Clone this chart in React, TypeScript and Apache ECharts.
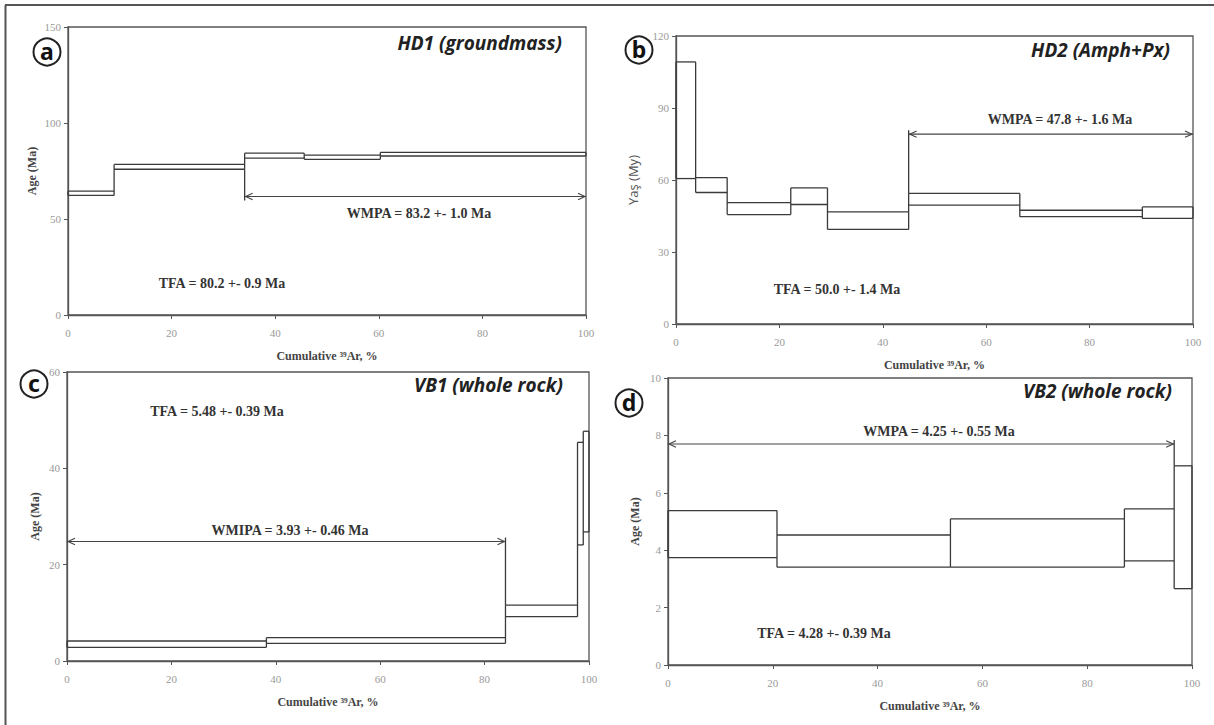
import React, { useEffect, useRef } from "react";
import * as echarts from "echarts";

// ---------- DATA ----------
// Panel a: HD1 (groundmass)
const hd1Edges = [0, 8.9, 34.1, 45.6, 60.3, 100];
const hd1Upper = [64.5, 78.4, 84.3, 83.3, 84.7];
const hd1Lower = [62.3, 75.9, 81.7, 81.1, 82.8];
// Panel b: HD2 (Amph+Px)
const hd2Edges = [0, 3.8, 9.9, 22.2, 29.3, 45.0, 66.5, 90.2, 100];
const hd2Upper = [109.2, 61.0, 50.6, 56.7, 46.7, 54.4, 47.4, 48.8];
const hd2Lower = [60.6, 54.8, 45.6, 49.8, 39.4, 49.5, 44.7, 44.0];
// Panel c: VB1 (whole rock)
const vb1Edges = [0, 38.2, 84.0, 97.8, 98.9, 100];
const vb1Upper = [4.15, 4.84, 11.6, 45.4, 47.7];
const vb1Lower = [2.84, 3.67, 9.2, 24.1, 26.8];
// Panel d: VB2 (whole rock)
const vb2Edges = [0, 20.8, 53.9, 87.1, 96.6, 100];
const vb2Upper = [5.38, 4.53, 5.09, 5.44, 6.94];
const vb2Lower = [3.74, 3.41, 3.41, 3.63, 2.66];

// Plateau arrows: [from %, to %, age level]
const hd1Plateau = [34.1, 100, 61.7];
const hd2Plateau = [45.0, 100, 79.1];
const vb1Plateau = [0, 84.0, 24.8];
const vb2Plateau = [0, 96.6, 7.7];

// Axis settings
const xTicks = [0, 20, 40, 60, 80, 100];
const yMaxes = [150, 120, 60, 10];
const yIntervals = [50, 30, 20, 2];

// Texts
const titles = ["HD1 (groundmass)", "HD2 (Amph+Px)", "VB1 (whole rock)", "VB2 (whole rock)"];
const panelLetters = ["a", "b", "c", "d"];
const wmpaTexts = [
  "WMPA = 83.2 +- 1.0 Ma",
  "WMPA = 47.8 +- 1.6 Ma",
  "WMIPA = 3.93 +- 0.46 Ma",
  "WMPA = 4.25 +- 0.55 Ma",
];
const tfaTexts = [
  "TFA = 80.2 +- 0.9 Ma",
  "TFA = 50.0 +- 1.4 Ma",
  "TFA = 5.48 +- 0.39 Ma",
  "TFA = 4.28 +- 0.39 Ma",
];
const yNames = ["Age (Ma)", "Yaş (My)", "Age (Ma)", "Age (Ma)"];
const xName = "Cumulative ³⁹Ar, %";

// ---------- LAYOUT ----------
const grids = [
  { left: 68, top: 27, width: 518, height: 288 },
  { left: 676, top: 36, width: 517, height: 288 },
  { left: 67, top: 372, width: 522, height: 289 },
  { left: 668, top: 378, width: 524, height: 287 },
];
const yNameGaps = [30, 37, 26, 27];
const titlePos = [
  [562, 43],
  [1170, 50],
  [563, 385],
  [1172, 391],
];
const circlePos = [
  [47, 52],
  [639, 50],
  [34, 384],
  [629, 403],
];
const wmpaPos = [
  [419, 213],
  [1060, 119],
  [290, 530],
  [939, 431],
];
const tfaPos = [
  [222, 283],
  [837, 289],
  [217, 411],
  [824, 633],
];

const panels = [
  { edges: hd1Edges, up: hd1Upper, lo: hd1Lower, plateau: hd1Plateau },
  { edges: hd2Edges, up: hd2Upper, lo: hd2Lower, plateau: hd2Plateau },
  { edges: vb1Edges, up: vb1Upper, lo: vb1Lower, plateau: vb1Plateau },
  { edges: vb2Edges, up: vb2Upper, lo: vb2Lower, plateau: vb2Plateau },
];

const LINE = "#3a3a3a";
const AXIS = "#555";

// each item: [x0, x1, lo, hi, leftEdgeLo, leftEdgeHi, isLast]
function boxData(p: any) {
  return p.up.map((u: number, i: number) => {
    const l = p.lo[i];
    const pl = i > 0 ? p.lo[i - 1] : l;
    const pu = i > 0 ? p.up[i - 1] : u;
    return [p.edges[i], p.edges[i + 1], l, u, Math.min(l, pl), Math.max(u, pu), i === p.up.length - 1 ? 1 : 0];
  });
}

// marker line target: the step extent at the inner plateau boundary
function plateauData(p: any) {
  const [from, to, y] = p.plateau;
  const mx = from > 0 ? from : to;
  const idx = p.edges.indexOf(mx);
  const cand: number[] = [];
  if (idx > 0) cand.push(p.lo[idx - 1], p.up[idx - 1]);
  if (idx < p.up.length) cand.push(p.lo[idx], p.up[idx]);
  const target = y > Math.max(...cand) ? Math.max(...cand) : Math.min(...cand);
  return [[from, to, y, mx, target]];
}

function renderBox(params: any, api: any) {
  const x0 = api.value(0);
  const x1 = api.value(1);
  const lo = api.value(2);
  const hi = api.value(3);
  const a = api.coord([x0, hi]);
  const b = api.coord([x1, lo]);
  const e0 = api.coord([x0, api.value(4)]);
  const e1 = api.coord([x0, api.value(5)]);
  const st = { stroke: LINE, lineWidth: 1.3, fill: "none" };
  const children: any[] = [
    { type: "line", shape: { x1: a[0], y1: a[1], x2: b[0], y2: a[1] }, style: st },
    { type: "line", shape: { x1: a[0], y1: b[1], x2: b[0], y2: b[1] }, style: st },
    { type: "line", shape: { x1: e0[0], y1: e0[1], x2: e1[0], y2: e1[1] }, style: st },
  ];
  if (api.value(6) === 1) {
    children.push({ type: "line", shape: { x1: b[0], y1: a[1], x2: b[0], y2: b[1] }, style: st });
  }
  return { type: "group", children };
}

function renderArrow(params: any, api: any) {
  const p0 = api.coord([api.value(0), api.value(2)]);
  const p1 = api.coord([api.value(1), api.value(2)]);
  const m0 = api.coord([api.value(3), api.value(2)]);
  const m1 = api.coord([api.value(3), api.value(4)]);
  const dir = m1[1] > m0[1] ? -1 : 1;
  const hl = 8;
  const hw = 3.2;
  const st = { stroke: "#444", lineWidth: 1.1, fill: "none" };
  return {
    type: "group",
    children: [
      { type: "line", shape: { x1: p0[0], y1: p0[1], x2: p1[0], y2: p1[1] }, style: st },
      {
        type: "polyline",
        shape: { points: [[p0[0] + hl, p0[1] - hw], [p0[0] + 1, p0[1]], [p0[0] + hl, p0[1] + hw]] },
        style: st,
      },
      {
        type: "polyline",
        shape: { points: [[p1[0] - hl, p1[1] - hw], [p1[0] - 1, p1[1]], [p1[0] - hl, p1[1] + hw]] },
        style: st,
      },
      {
        type: "line",
        shape: { x1: m0[0], y1: m0[1] + dir * 4, x2: m1[0], y2: m1[1] },
        style: { stroke: LINE, lineWidth: 1.3 },
      },
    ],
  };
}

export default function App() {
  const ref = useRef<HTMLDivElement>(null);
  useEffect(() => {
    if (!ref.current) return;
    const chart = echarts.init(ref.current, null, { renderer: "svg" });

    const xAxis = grids.map((_, i) => ({
      type: "value",
      gridIndex: i,
      min: xTicks[0],
      max: xTicks[xTicks.length - 1],
      interval: 20,
      name: xName,
      nameLocation: "middle",
      nameGap: 35,
      nameTextStyle: {
        fontFamily: "Liberation Serif",
        fontWeight: "bold",
        fontSize: 12,
        color: "#444",
      },
      axisLine: { show: true, lineStyle: { color: AXIS, width: 1.3 } },
      axisTick: { show: true, length: 4, lineStyle: { color: AXIS } },
      axisLabel: { color: "#999", fontSize: 11, fontFamily: "Liberation Serif", margin: 12 },
      splitLine: { show: false },
    }));

    const yAxis = grids.map((_, i) => ({
      type: "value",
      gridIndex: i,
      min: 0,
      max: yMaxes[i],
      interval: yIntervals[i],
      name: yNames[i],
      nameLocation: "middle",
      nameGap: yNameGaps[i],
      nameRotate: 90,
      nameTextStyle:
        i === 1
          ? { fontFamily: "Open Sans", fontSize: 13, color: "#555" }
          : { fontFamily: "Liberation Serif", fontWeight: "bold", fontSize: 12, color: "#444" },
      axisLine: { show: true, lineStyle: { color: AXIS, width: 1.3 } },
      axisTick: { show: true, length: 4, lineStyle: { color: AXIS } },
      axisLabel: { color: "#999", fontSize: 11, fontFamily: "Liberation Serif", margin: 7 },
      splitLine: { show: false },
    }));

    const series: any[] = [];
    panels.forEach((p, i) => {
      series.push({
        type: "custom",
        xAxisIndex: i,
        yAxisIndex: i,
        renderItem: renderBox,
        encode: { x: [0, 1], y: [2, 3] },
        data: boxData(p),
        silent: true,
      });
      series.push({
        type: "custom",
        xAxisIndex: i,
        yAxisIndex: i,
        renderItem: renderArrow,
        encode: { x: [0, 1], y: [2] },
        data: plateauData(p),
        silent: true,
      });
    });

    const graphic: any[] = [
      { type: "line", shape: { x1: 5, y1: 5, x2: 1214, y2: 5 }, style: { stroke: "#555", lineWidth: 2 } },
      { type: "line", shape: { x1: 5.5, y1: 5, x2: 5.5, y2: 725 }, style: { stroke: "#555", lineWidth: 2 } },
    ];
    for (let i = 0; i < 4; i++) {
      graphic.push({
        type: "text",
        x: titlePos[i][0],
        y: titlePos[i][1],
        style: {
          text: titles[i],
          align: "right",
          verticalAlign: "middle",
          fill: "#222",
          font: 'italic bold 19px "Open Sans"',
        },
      });
      graphic.push({
        type: "circle",
        shape: { cx: circlePos[i][0], cy: circlePos[i][1], r: 13.5 },
        style: { fill: "#fff", stroke: "#222", lineWidth: 2 },
      });
      graphic.push({
        type: "text",
        x: circlePos[i][0],
        y: circlePos[i][1] - 1,
        style: {
          text: panelLetters[i],
          align: "center",
          verticalAlign: "middle",
          fill: "#111",
          font: 'bold 23px "Noto Sans"',
        },
      });
      graphic.push({
        type: "text",
        x: wmpaPos[i][0],
        y: wmpaPos[i][1],
        style: {
          text: wmpaTexts[i],
          align: "center",
          verticalAlign: "middle",
          fill: "#333",
          font: 'bold 14px "Liberation Serif"',
        },
      });
      graphic.push({
        type: "text",
        x: tfaPos[i][0],
        y: tfaPos[i][1],
        style: {
          text: tfaTexts[i],
          align: "center",
          verticalAlign: "middle",
          fill: "#333",
          font: 'bold 14px "Liberation Serif"',
        },
      });
    }

    chart.setOption({
      animation: false,
      backgroundColor: "#fff",
      grid: grids.map((g) => ({ ...g, show: true, borderColor: AXIS, borderWidth: 1.3, backgroundColor: "transparent" })),
      xAxis,
      yAxis,
      series,
      graphic,
    });
    return () => chart.dispose();
  }, []);
  return (
    <div
      ref={ref}
      style={{ position: "fixed", left: 0, top: 0, width: 1214, height: 725, background: "#fff" }}
    />
  );
}
